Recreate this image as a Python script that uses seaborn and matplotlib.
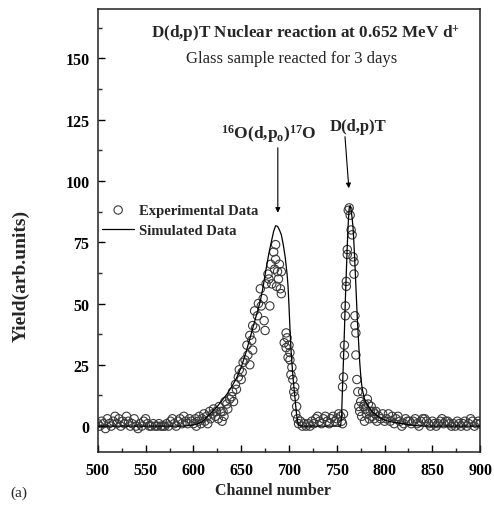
import numpy as np
import pandas as pd
import matplotlib
matplotlib.use("Agg")
import matplotlib.pyplot as plt
import seaborn as sns
from matplotlib.ticker import MultipleLocator

# ---------------- data ----------------
# experimental: left baseline (500..598 step 2)
base_left_x = list(range(500, 600, 2))
base_left_y = [1, 0, 2, 1, -1, 3, 1, 0, 2, 4, 1, 3, 0, 2, 1, 4, 2, 0, 1, 3,
               0, -1, 1, 0, 2, 3, 1, 0, 0, 1, 0, 0, 1, 0, 0, 0, 1, 0, 2, 3,
               1, 0, 2, 3, 1, 4, 2, 1, 3, 2]
# experimental: 16O(d,po)17O peak
oxy_x = [600, 602, 603, 605, 606, 608, 609, 611, 612, 614, 615, 617, 618, 620, 621,
         623, 624, 626, 627, 629, 630, 631, 632, 633, 635, 636, 638, 640, 641, 642,
         644, 645, 647, 648, 650, 651, 652, 654, 656, 657, 659, 659, 661, 662, 662,
         664, 665, 667, 668, 670, 671, 673, 674, 675, 676, 678, 679, 680, 681, 682,
         684, 685, 686, 686, 687, 688, 689, 690, 691, 692, 692, 695, 697, 697, 698,
         699, 700, 701, 701, 702, 703, 704, 705, 706, 706, 707, 708, 709, 710, 712]
oxy_y = [1, 3, 0, 2, 4, 1, 3, 5, 2, 4, 1, 6, 3, 5, 7,
         4, 6, 3, 8, 6, 2, 6, 4, 10, 9, 7, 11, 12, 14, 10,
         17, 15, 20, 23, 19, 22, 26, 27, 33, 29, 25, 37, 35, 31, 41,
         47, 40, 45, 50, 56, 49, 52, 43, 39, 58, 62, 60, 49, 66, 58,
         71, 64, 74, 68, 57, 63, 60, 66, 56, 63, 54, 34, 38, 32, 36,
         28, 33, 30, 27, 21, 24, 19, 14, 16, 12, 5, 8, 3, 1, 2]
# experimental: baseline between peaks
base_mid_x = list(range(714, 756, 2))
base_mid_y = [0, 1, 0, 1, 0, 2, 1, 3, 4, 2, 1, 3, 4, 2, 1, 3, 4, 2, 3, 5, 4]
# experimental: D(d,p)T peak
deut_x = [755, 756, 756, 757, 757, 758, 758, 759, 759, 760, 760, 761, 761, 762, 763,
          764, 765, 766, 767, 768, 768, 769, 769, 770, 770, 771, 772, 773, 774, 775,
          776, 777, 778, 779, 779, 780, 781, 782, 783, 784, 785, 786, 787, 788, 789,
          790, 791, 792, 794, 796, 798, 800]
deut_y = [2, 1, 16, 20, 5, 33, 29, 49, 45, 59, 57, 72, 70, 88, 89,
          86, 80, 78, 69, 62, 67, 45, 41, 38, 29, 19, 14, 8, 6, 10,
          4, 14, 8, 2, 9, 7, 5, 11, 9, 3, 6, 8, 4, 6, 3,
          5, 6, 2, 4, 3, 5, 2]
# experimental: right baseline
base_right_x = list(range(802, 902, 2))
base_right_y = [3, 5, 2, 4, 1, 3, 4, 2, 0, 1, 3, 2, 2, 1, 2, 3, 1, 0, 2, 3,
                3, 2, 1, 0, 2, 1, 0, 1, 2, 3, 1, 2, 2, 1, 0, 1, 0, 2, 1, 0,
                1, 2, 0, 1, 3, 2, 0, 1, 2, 1]

# simulated spectrum
sim_x = [500, 590, 600, 605, 610, 615, 620, 625, 630, 635, 640, 645, 650, 655, 660,
         665, 670, 673, 676, 679, 682, 684, 686, 688, 690, 692, 694, 696, 698, 699,
         700, 701, 702, 703, 704, 705, 706, 707, 708, 709, 710, 712, 753, 754, 755,
         756, 757, 758, 759, 760, 761, 762, 763, 764, 765, 766, 767, 768, 769, 770,
         771, 772, 773, 774, 775, 776, 777, 779, 782, 785, 788, 795, 802, 810, 819,
         830, 840, 900]
sim_y = [0, 0, 0.5, 1, 2, 4, 6, 8, 10.5, 13, 16, 19.5, 24, 30, 37,
         44, 51, 57, 64, 70.5, 76, 79.5, 81.7, 81.5, 80, 78, 74, 69, 62, 57,
         49, 40, 32, 26, 21, 16.5, 12.5, 8.5, 4.5, 2, 0.5, 0, 0, 0, 4,
         16, 27, 39, 52, 63, 74, 83, 89, 90, 88, 85, 81, 74, 66, 57,
         48, 40, 33, 26, 21, 17, 14.5, 11, 8.5, 7, 5.5, 3.5, 2.2, 1.5, 1,
         0.3, 0, 0]

exp_df = pd.DataFrame({
    "channel": base_left_x + oxy_x + base_mid_x + deut_x + base_right_x,
    "yield": base_left_y + oxy_y + base_mid_y + deut_y + base_right_y,
})
sim_df = pd.DataFrame({"channel": sim_x, "yield": sim_y})

x_ticks = [500, 550, 600, 650, 700, 750, 800, 850, 900]
y_ticks = [0, 25, 50, 75, 100, 125, 150]

# ---------------- style ----------------
sns.set_theme(style="ticks")
plt.rcParams["font.family"] = ["Liberation Serif", "DejaVu Serif"]
plt.rcParams["mathtext.fontset"] = "custom"
plt.rcParams["mathtext.rm"] = "Liberation Serif:bold"
plt.rcParams["mathtext.it"] = "Liberation Serif:bold"
plt.rcParams["mathtext.bf"] = "Liberation Serif:bold"

fig = plt.figure(figsize=(4.94, 5.10), dpi=100)
ax = fig.add_axes([0.198, 0.112, 0.774, 0.868])

sns.scatterplot(data=exp_df, x="channel", y="yield", ax=ax, marker="o",
                s=36, facecolor="none", edgecolor="#3a3a3a", linewidth=0.8,
                label="Experimental Data", zorder=2)
sns.lineplot(data=sim_df, x="channel", y="yield", ax=ax, color="black",
             linewidth=0.9, estimator=None, sort=False,
             label="Simulated Data", zorder=3)

ax.set_xlim(500, 900)
ax.set_ylim(-10.5, 170)
ax.set_xticks(x_ticks)
ax.set_yticks(y_ticks)
ax.xaxis.set_minor_locator(MultipleLocator(25))
ax.yaxis.set_minor_locator(MultipleLocator(12.5))
ax.tick_params(axis="both", which="major", direction="in", length=5, width=1,
               labelsize=11.5, colors="black")
ax.tick_params(axis="both", which="minor", direction="in", length=3, width=1)
ax.tick_params(axis="x", which="major", pad=7)
ax.tick_params(axis="y", which="major", pad=6)
for lab in ax.get_xticklabels() + ax.get_yticklabels():
    lab.set_fontweight("bold")
for sp in ax.spines.values():
    sp.set_linewidth(1.1)
    sp.set_color("#222222")
    sp.set_visible(True)

ax.set_xlabel("Channel number", fontsize=11.5, fontweight="bold")
ax.set_ylabel("Yield(arb.units)", fontsize=14, fontweight="bold")
ax.xaxis.set_label_coords(0.457, -0.068)
ax.yaxis.set_label_coords(-0.178, 0.40)

leg = ax.legend(loc="upper left", bbox_to_anchor=(-0.004, 0.574), frameon=False,
                fontsize=10.5, handlelength=2.2, handletextpad=0.3,
                labelspacing=0.5, borderaxespad=0.0)
for t in leg.get_texts():
    t.set_fontweight("bold")

ax.text(717.6, 160.5, "D(d,p)T Nuclear reaction at 0.652 MeV d$^{+}$",
        ha="center", va="center", fontsize=12.3, fontweight="bold")
ax.text(703, 150.3, "Glass sample reacted for 3 days",
        ha="center", va="center", fontsize=12)

ax.text(679, 119.5, "$^{16}$O(d,p$_{o}$)$^{17}$O", ha="center", va="center",
        fontsize=12.5, fontweight="bold")
ax.text(772, 122.5, "D(d,p)T", ha="center", va="center", fontsize=12,
        fontweight="bold")
ax.annotate("", xy=(688.3, 87), xytext=(688.3, 113.5),
            arrowprops=dict(arrowstyle="-|>", lw=0.8, color="black",
                            mutation_scale=7, shrinkA=0, shrinkB=0))
ax.annotate("", xy=(762.6, 97), xytext=(758.6, 118),
            arrowprops=dict(arrowstyle="-|>", lw=0.8, color="black",
                            mutation_scale=7, shrinkA=0, shrinkB=0))

fig.text(19 / 494, 1 - 493 / 510, "(a)", ha="center", va="center", fontsize=11)

fig.savefig("out.png", dpi=100)
